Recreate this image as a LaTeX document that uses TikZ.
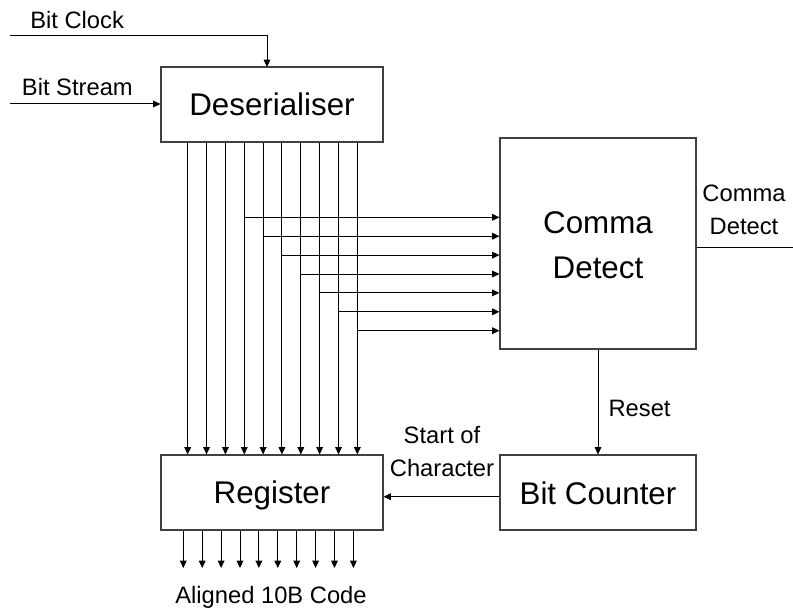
\documentclass[tikz,border=0pt]{standalone}
\usepackage{fontspec}
\setmainfont{Liberation Sans}
\usetikzlibrary{arrows.meta}
\begin{document}
\begin{tikzpicture}[x=0.75pt,y=-0.75pt,
  blk/.style={draw=black!75,line width=0.8pt,inner sep=0pt},
  lbl/.style={inner sep=0pt,font=\fontsize{17.8}{25}\selectfont,align=center},
  big/.style={inner sep=0pt,font=\fontsize{23.5}{33.75}\selectfont,align=center},
  wire/.style={line width=0.75pt,black},
  arr/.style={wire,-{Triangle[length=5.5pt,width=5pt]}}]
\useasboundingbox (0,0) rectangle (793,610);
% blocks
\node[blk,minimum width=166.5pt,minimum height=56.25pt] (des) at (272,104.5) {};
\node[blk,minimum width=147pt,minimum height=158.25pt] (cd) at (598,243.5) {};
\node[blk,minimum width=166.5pt,minimum height=56.25pt] (reg) at (272,492.5) {};
\node[blk,minimum width=147pt,minimum height=56.25pt] (bc) at (598,492.5) {};
% block texts
\node[big,anchor=base] (tdes) at (272,115.7) {Deserialiser};
\node[big] (tcd) at (598,245) {Comma\\Detect};
\node[big,anchor=base] (treg) at (272,503.3) {Register};
\node[big,anchor=base] (tbc) at (598,504) {Bit Counter};
% labels
\node[lbl,anchor=base west] (lclk) at (30,28.3) {Bit Clock};
\node[lbl,anchor=base west] (lstr) at (21.7,95.7) {Bit Stream};
\node[lbl] (lcd) at (744,210) {Comma\\Detect};
\node[lbl,anchor=base west] (lrst) at (608.3,416) {Reset};
\node[lbl] (lsoc) at (442,451.4) {Start of\\Character};
\node[lbl,anchor=base] (lout) at (271,603.3) {Aligned 10B Code};
% inputs
\coordinate (clk) at (10,36);
\coordinate (clkin) at (267,67);
\draw[arr] (clk) -| (clkin);
\coordinate (str) at (10,104);
\draw[arr] (str) -- (str -| des.west);
% parallel bits
\foreach \i in {0,...,9} {
  \coordinate (v\i) at ({187.7+18.85*\i},0);
  \draw[arr] (v\i |- des.south) -- (v\i |- reg.north);
}
\foreach \j in {0,...,6} {
  \pgfmathtruncatemacro{\k}{\j+3}
  \coordinate (h\j) at ({187.7+18.85*\k},{217.3+18.9*\j});
  \draw[arr] (h\j) -- (h\j -| cd.west);
}
% comma detect output
\coordinate (cdo) at (793,247.7);
\draw[wire] (cdo -| cd.east) -- (cdo);
% reset
\draw[arr] (cd.south) -- (bc.north);
% start of character
\coordinate (soc) at (450,496.7);
\draw[arr] (soc -| bc.west) -- (soc -| reg.east);
% outputs
\foreach \i in {0,...,9} {
  \coordinate (o\i) at ({183.3+18.9*\i},568);
  \draw[arr] (o\i |- reg.south) -- (o\i);
}
\end{tikzpicture}
\end{document}
